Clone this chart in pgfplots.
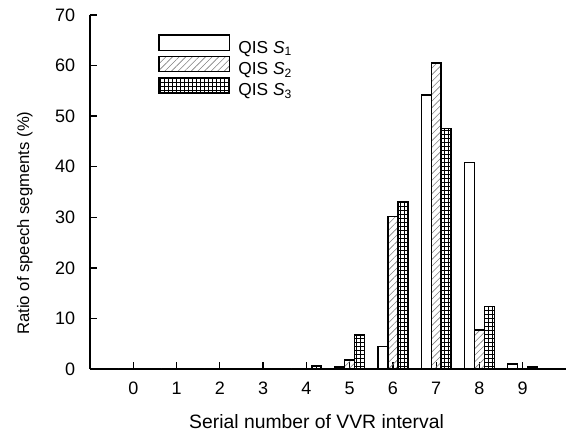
\documentclass[border=0pt]{standalone}
\usepackage{fontspec}
\setmainfont{Liberation Sans}
\usepackage{pgfplots}
\pgfplotsset{compat=1.18}
\usetikzlibrary{patterns.meta}

% values (percent of segments per VVR interval)
\pgfplotstableread{
x  s1    s2    s3
0  0     0     0
1  0     0     0
2  0     0     0
3  0     0     0
4  0     0     0.7
5  0.4   1.8   6.7
6  4.5   30.2  33.0
7  54.2  60.5  47.5
8  40.8  7.7   12.3
9  1.0   0     0.4
}\vvrdata

\begin{document}
\begin{tikzpicture}
\begin{axis}[
    scale only axis,
    width=357pt, height=265.5pt,
    ybar=0pt, bar width=0.23,
    xmin=-1, xmax=10,
    ymin=0, ymax=70,
    xtick={0,...,9},
    ytick={0,10,...,70},
    axis x line=bottom, axis y line=left,
    axis line style={-, line width=1.2pt},
    tick align=inside,
    major tick length=5pt,
    tick style={line width=1pt, black},
    /pgf/number format/assume math mode=true,
    tick label style={font=\fontsize{13.5}{16}\selectfont},
    xticklabel style={anchor=center, yshift=-14.25pt},
    yticklabel style={anchor=east, inner sep=0pt, xshift=-10.9pt},
    xlabel={Serial number of VVR interval},
    ylabel={Ratio of speech segments (\%)},
    xlabel style={font=\fontsize{14.5}{17}\selectfont,
        at={(rel axis cs:0.476,-0.150)}, anchor=center},
    ylabel style={font=\fontsize{12.5}{15}\selectfont,
        at={(rel axis cs:-0.137,0.412)}, anchor=center},
    legend cell align=left,
    legend image code/.code={
        \draw[#1, line width=1pt] (0pt,-1.5pt) rectangle (53pt,10pt);
        \path (59pt,0pt);},
    legend style={
        at={(rel axis cs:0.143,0.946)}, anchor=north west,
        draw=none, fill=none, inner sep=0pt, row sep=-1pt,
        font=\fontsize{13}{15}\selectfont,
        nodes={inner sep=0pt, text height=10pt, text depth=3pt},
    },
]
\addplot[draw=black, line width=1pt, fill=white] table[x=x, y=s1] {\vvrdata};
\addplot[draw=black, line width=1pt,
    pattern={Lines[angle=45, distance=3.5pt, line width=0.45pt]}, pattern color=gray]
    table[x=x, y=s2] {\vvrdata};
\addplot[draw=black, line width=1pt,
    pattern={Hatch[angle=0, distance=3pt, line width=0.4pt]}, pattern color=black]
    table[x=x, y=s3] {\vvrdata};
\legend{QIS \textit{S}\textsubscript{1}, QIS \textit{S}\textsubscript{2}, QIS \textit{S}\textsubscript{3}}
\coordinate (O) at (rel axis cs:0,0);
\coordinate (TR) at (rel axis cs:1,1);
\end{axis}
\pgfresetboundingbox
\path[use as bounding box] ([xshift=-67.5pt, yshift=-48.75pt]O) rectangle ([yshift=11.25pt]TR);
\end{tikzpicture}
\end{document}
